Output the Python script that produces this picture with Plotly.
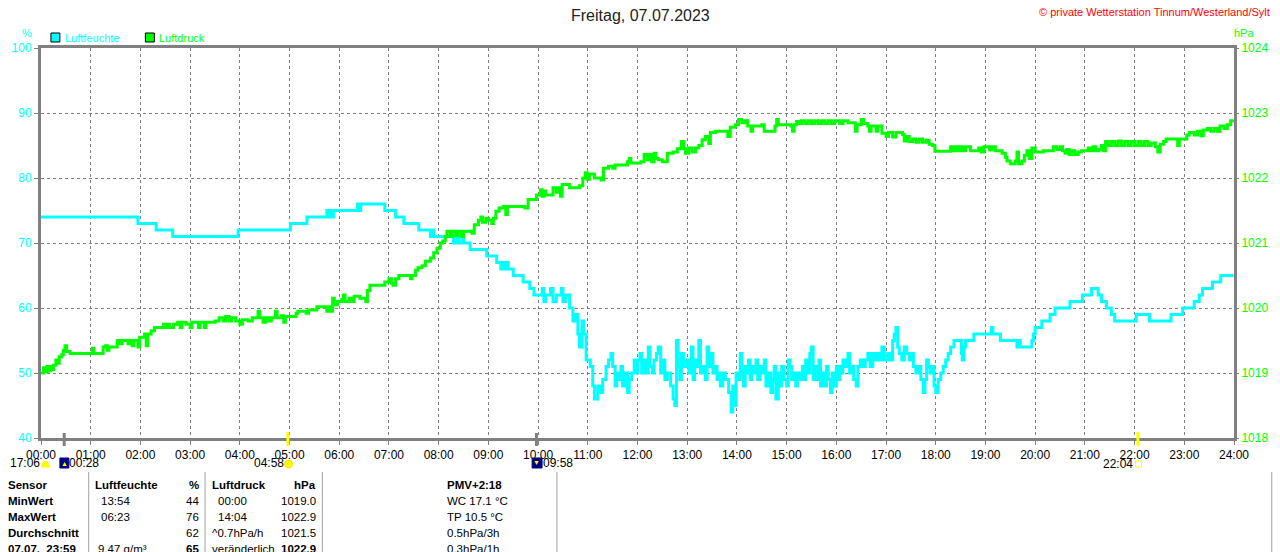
import plotly.graph_objects as go

# ---------------- data ----------------
hum_times = ["00:00","01:57","02:19","02:39","03:58","05:01","05:21","05:45","05:47","05:50","05:52","05:53",
"06:22","06:24","06:26","06:55","07:08","07:18","07:36","07:50","07:52","07:54","08:18","08:22","08:24","08:28",
"08:30","08:38","08:58","09:10","09:15","09:17","09:20","09:22","09:24","09:30","09:42","09:50","09:55","10:05",
"10:07","10:09","10:15","10:18","10:22","10:28","10:30","10:33","10:38","10:42","10:45","10:48","10:50","10:53",
"10:55","10:58","11:03","11:06","11:08","11:12","11:15","11:18","11:22","11:25","11:28","11:30","11:33","11:35",
"11:38","11:40","11:42","11:45","11:48","11:50","11:53","11:56","11:58","12:00","12:03","12:05","12:08","12:10",
"12:13","12:15","12:18","12:20","12:23","12:25","12:28","12:30","12:33","12:36","12:40","12:43","12:45","12:47",
"12:49","12:51","12:53","12:56","13:00","13:02","13:05","13:07","13:09","13:12","13:14","13:16","13:19","13:22",
"13:24","13:26","13:28","13:31","13:34","13:36","13:38","13:40","13:43","13:46","13:50","13:53","13:55","13:57",
"13:59","14:02","14:04","14:06","14:08","14:10","14:12","14:14","14:16","14:18","14:21","14:23","14:25","14:28",
"14:30","14:33","14:35","14:38","14:41","14:43","14:45","14:47","14:50","14:52","14:54","14:57","15:00","15:02",
"15:04","15:06","15:08","15:11","15:13","15:16","15:19","15:21","15:23","15:26","15:28","15:30","15:32","15:34",
"15:37","15:39","15:41","15:44","15:46","15:48","15:50","15:53","15:55","15:58","16:00","16:02","16:04","16:06",
"16:08","16:11","16:14","16:16","16:19","16:21","16:24","16:26","16:29","16:32","16:35","16:38","16:41","16:44",
"16:46","16:49","16:52","16:55","16:58","17:02","17:05","17:08","17:10","17:12","17:14","17:16","17:19","17:22",
"17:25","17:28","17:30","17:33","17:36","17:39","17:42","17:45","17:47","17:49","17:51","17:53","17:55","17:58",
"18:00","18:03","18:06","18:09","18:12","18:15","18:18","18:22","18:31","18:32","18:34","18:36","18:46","19:07",
"19:09","19:18","19:38","19:40","19:42","19:56","19:58","20:00","20:08","20:18","20:24","20:42","20:57","21:08",
"21:16","21:20","21:26","21:32","21:36","22:02","22:18","22:44","22:58","23:12","23:18","23:22","23:34","23:44","23:59"]
hum_values = [74,73,72,71,72,73,74,75,74,75,74,75,
76,75,76,75,74,73,72,71,72,71,70,71,70,71,
70,69,68,67,66,67,66,67,66,65,64,63,62,63,
61,62,63,61,62,63,61,62,60,58,59,56,54,58,
56,52,51,48,46,48,47,49,51,52,53,51,48,50,
49,51,48,50,47,49,50,52,50,52,53,50,52,50,
54,51,50,52,53,54,50,52,49,50,48,46,45,55,
51,49,53,51,52,50,54,49,52,51,55,50,51,49,
54,51,53,50,51,49,50,48,50,49,47,44,48,45,
50,49,53,50,48,51,50,52,49,51,50,52,49,51,
50,52,48,50,47,49,51,46,50,48,51,49,48,52,
51,49,50,48,50,49,51,49,52,50,53,54,49,51,
49,52,48,50,48,51,49,47,50,48,51,49,51,50,
52,51,53,50,51,49,48,51,52,51,52,53,51,53,
52,53,52,54,52,53,52,55,56,57,54,53,52,54,
53,52,53,51,50,51,49,47,49,52,51,50,51,48,
47,49,50,51,52,53,54,55,53,52,54,55,56,57,
56,55,54,55,54,55,56,57,58,59,60,61,62,63,
62,61,60,59,58,59,58,59,60,61,62,63,64,65,65]

pres_times = ["00:00","00:03","00:05","00:07","00:09","00:11","00:13","00:15","00:18","00:20","00:22","00:25",
"00:27","00:29","00:31","00:35","01:02","01:04","01:15","01:18","01:20","01:22","01:32","01:35","01:38","01:45",
"01:47","01:50","01:52","01:57","01:59","02:05","02:07","02:09","02:13","02:17","02:28","02:30","02:33","02:35",
"02:40","02:45","02:48","02:50","02:55","03:00","03:02","03:10","03:12","03:17","03:19","03:30","03:35","03:40",
"03:43","03:47","03:50","03:55","04:00","04:03","04:10","04:15","04:22","04:24","04:28","04:31","04:35","04:38",
"04:43","04:45","04:50","04:53","04:55","05:08","05:10","05:20","05:23","05:33","05:45","05:48","05:50","05:52",
"05:54","05:58","06:03","06:05","06:07","06:12","06:15","06:18","06:25","06:32","06:34","06:37","06:55","07:00",
"07:03","07:05","07:08","07:12","07:26","07:28","07:32","07:35","07:40","07:44","07:50","07:54","07:58","08:02",
"08:05","08:08","08:10","08:14","08:16","08:20","08:23","08:27","08:30","08:40","08:43","08:48","08:51","08:53",
"08:57","09:00","09:04","09:06","09:09","09:13","09:18","09:21","09:23","09:44","09:48","09:58","10:03","10:05",
"10:07","10:09","10:18","10:22","10:25","10:27","10:29","10:38","10:50","10:54","10:57","10:59","11:02","11:08",
"11:16","11:19","11:25","11:30","11:33","11:48","11:50","11:52","12:04","12:08","12:12","12:14","12:17","12:20",
"12:22","12:25","12:30","12:36","12:43","12:48","12:53","12:56","12:58","13:02","13:06","13:10","13:14","13:18",
"13:22","13:26","13:28","13:34","13:49","13:52","13:58","14:02","14:06","14:10","14:13","14:17","14:19","14:30",
"14:33","14:46","14:48","14:50","15:05","15:07","15:09","15:12","15:15","15:18","15:22","15:26","15:30","15:34",
"15:38","15:42","15:46","15:50","15:54","15:58","16:04","16:08","16:14","16:23","16:25","16:30","16:33","16:38",
"16:40","16:42","16:48","16:50","16:55","17:00","17:03","17:08","17:12","17:20","17:22","17:25","17:28","17:32",
"17:36","17:40","17:44","17:48","17:52","17:56","17:59","18:18","18:21","18:24","18:27","18:30","18:33","18:36",
"18:42","18:52","18:55","18:58","19:05","19:08","19:12","19:20","19:24","19:26","19:30","19:36","19:38","19:40",
"19:44","19:47","19:50","19:53","19:56","20:00","20:10","20:22","20:26","20:30","20:33","20:36","20:38","20:41",
"20:44","20:48","20:52","20:56","21:04","21:07","21:10","21:13","21:17","21:20","21:22","21:25","21:28","21:32",
"21:36","21:40","21:44","21:48","21:52","21:56","22:00","22:04","22:08","22:12","22:16","22:20","22:25","22:28",
"22:31","22:35","22:38","22:45","22:52","22:54","23:03","23:06","23:12","23:16","23:20","23:23","23:28","23:32",
"23:36","23:40","23:43","23:48","23:52","23:56","23:59"]
pres_values = [1019.00,1019.08,1019.02,1019.10,1019.03,1019.10,1019.05,1019.12,1019.20,1019.15,1019.25,1019.28,
1019.35,1019.42,1019.33,1019.30,1019.38,1019.30,1019.40,1019.42,1019.35,1019.40,1019.50,1019.45,1019.50,1019.45,
1019.50,1019.42,1019.50,1019.40,1019.55,1019.60,1019.42,1019.60,1019.65,1019.70,1019.75,1019.70,1019.75,1019.70,
1019.75,1019.78,1019.70,1019.78,1019.75,1019.70,1019.78,1019.70,1019.78,1019.70,1019.78,1019.80,1019.85,1019.80,
1019.87,1019.80,1019.85,1019.80,1019.75,1019.82,1019.80,1019.85,1019.95,1019.85,1019.78,1019.85,1019.80,1019.85,
1019.95,1019.85,1019.88,1019.78,1019.87,1019.92,1019.95,1019.92,1019.97,1020.02,1019.95,1020.02,1019.95,1020.15,
1020.05,1020.10,1020.13,1020.20,1020.10,1020.15,1020.10,1020.18,1020.15,1020.10,1020.27,1020.35,1020.40,1020.45,
1020.38,1020.35,1020.45,1020.50,1020.45,1020.50,1020.58,1020.62,1020.65,1020.72,1020.77,1020.85,1020.92,1021.00,
1021.03,1021.10,1021.18,1021.10,1021.18,1021.12,1021.18,1021.10,1021.18,1021.15,1021.28,1021.35,1021.40,1021.32,
1021.38,1021.35,1021.30,1021.38,1021.49,1021.54,1021.56,1021.44,1021.56,1021.54,1021.67,1021.74,1021.82,1021.72,
1021.80,1021.74,1021.85,1021.78,1021.85,1021.72,1021.90,1021.85,1021.88,1022.00,1022.08,1021.98,1022.06,1022.00,
1021.97,1022.15,1022.18,1022.15,1022.20,1022.25,1022.30,1022.23,1022.25,1022.36,1022.28,1022.36,1022.25,1022.38,
1022.30,1022.28,1022.25,1022.38,1022.40,1022.45,1022.56,1022.45,1022.38,1022.46,1022.40,1022.46,1022.50,1022.59,
1022.64,1022.53,1022.70,1022.72,1022.64,1022.78,1022.82,1022.90,1022.85,1022.88,1022.80,1022.72,1022.80,1022.82,
1022.72,1022.80,1022.90,1022.82,1022.80,1022.72,1022.82,1022.87,1022.84,1022.88,1022.84,1022.88,1022.84,1022.88,
1022.84,1022.88,1022.84,1022.88,1022.84,1022.88,1022.84,1022.88,1022.85,1022.72,1022.82,1022.90,1022.84,1022.80,
1022.72,1022.80,1022.72,1022.80,1022.69,1022.64,1022.70,1022.63,1022.70,1022.67,1022.57,1022.64,1022.56,1022.60,
1022.55,1022.60,1022.55,1022.58,1022.52,1022.50,1022.41,1022.48,1022.42,1022.48,1022.42,1022.48,1022.42,1022.48,
1022.42,1022.46,1022.40,1022.48,1022.43,1022.48,1022.42,1022.38,1022.32,1022.26,1022.22,1022.26,1022.40,1022.22,
1022.26,1022.35,1022.42,1022.30,1022.46,1022.40,1022.42,1022.48,1022.44,1022.48,1022.42,1022.38,1022.44,1022.36,
1022.42,1022.36,1022.40,1022.42,1022.46,1022.42,1022.48,1022.42,1022.44,1022.50,1022.42,1022.56,1022.50,1022.56,
1022.50,1022.57,1022.50,1022.56,1022.50,1022.56,1022.50,1022.56,1022.50,1022.56,1022.50,1022.54,1022.48,1022.40,
1022.52,1022.56,1022.60,1022.60,1022.50,1022.60,1022.66,1022.70,1022.66,1022.72,1022.65,1022.74,1022.76,1022.72,
1022.76,1022.72,1022.80,1022.76,1022.82,1022.88,1022.90]

hour_labels = ["00:00","01:00","02:00","03:00","04:00","05:00","06:00","07:00","08:00","09:00","10:00","11:00",
"12:00","13:00","14:00","15:00","16:00","17:00","18:00","19:00","20:00","21:00","22:00","23:00","24:00"]
hum_ticks = [40, 50, 60, 70, 80, 90, 100]
pres_ticks = [1018, 1019, 1020, 1021, 1022, 1023, 1024]

# astronomical events
moon_events = ["00:28", "09:58"]
sun_events = ["04:58", "22:04"]
day_length = "17:06"

# table
col_sensor = ["Sensor", "MinWert", "MaxWert", "Durchschnitt", "07.07.  23:59"]
col_hum_time = ["Luftfeuchte", "13:54", "06:23", "", "9.47 g/m³"]
col_hum_val = ["%", "44", "76", "62", "65"]
col_pres_time = ["Luftdruck", "00:00", "14:04", "^0.7hPa/h", "veränderlich"]
col_pres_val = ["hPa", "1019.0", "1022.9", "1021.5", "1022.9"]
col_extra = ["PMV+2:18", "WC 17.1 °C", "TP 10.5 °C", "0.5hPa/3h", "0.3hPa/1h"]
bold_hum_time = [True, False, False, False, False]
bold_vals = [True, False, False, False, True]

# ---------------- helpers ----------------
def to_h(t):
    hh, mm = t.split(":")
    return int(hh) + int(mm) / 60.0

L, R, T, B = 40, 1240, 48, 438
def px(x):
    return (x - L) / (R - L)
def py(y):
    return (B - y) / (B - T)

CYAN = "#00FFFF"
GREEN = "#00FF00"
GRAY = "#808080"
FONT = "Liberation Sans, Arial, sans-serif"

fig = go.Figure()
fig.add_trace(go.Scatter(x=[to_h(t) for t in hum_times], y=hum_values, mode="lines",
                         line=dict(color=CYAN, width=3, shape="hv"), yaxis="y", showlegend=False))
fig.add_trace(go.Scatter(x=[to_h(t) for t in pres_times], y=pres_values, mode="lines",
                         line=dict(color=GREEN, width=3, shape="hv"), yaxis="y2", showlegend=False))

ann = []
shapes = []

def text(x, y, s, color="black", size=12, anchor="left", bold=False):
    ann.append(dict(x=px(x), y=py(y), xref="paper", yref="paper", text=("<b>%s</b>" % s) if bold else s,
                    showarrow=False, xanchor=anchor, yanchor="middle", borderpad=0, borderwidth=0,
                    font=dict(family=FONT, size=size, color=color)))

# title and header texts
text(643, 15, "Freitag, 07.07.2023", color="#222222", size=16, anchor="center")
text(1276, 12, "© private Wetterstation Tinnum/Westerland/Sylt", color="#FF0000", size=11, anchor="right")
text(26, 33, "%", color=CYAN, size=11, anchor="center")
text(1250, 33, "hPa", color=GREEN, size=11, anchor="center")

# legend
for x0, col, lab in [(50, CYAN, "Luftfeuchte"), (145, GREEN, "Luftdruck")]:
    shapes.append(dict(type="rect", xref="paper", yref="paper", x0=px(x0), x1=px(x0 + 9), y0=py(42), y1=py(33),
                       fillcolor=col, line=dict(color="black", width=1)))
    text(x0 + 14, 38, lab, color=col, size=11)

# event ticks on the x-axis
for t in moon_events:
    shapes.append(dict(type="line", xref="x", yref="paper", x0=to_h(t), x1=to_h(t), y0=py(433), y1=py(446),
                       line=dict(color=GRAY, width=3)))
for t in sun_events:
    shapes.append(dict(type="line", xref="x", yref="paper", x0=to_h(t), x1=to_h(t), y0=py(432), y1=py(446),
                       line=dict(color="#FFFF00", width=3)))

# event labels and icons
text(9, 463, day_length, size=12)
shapes.append(dict(type="path", xref="paper", yref="paper",
                   path="M %f %f Q %f %f %f %f Z" % (px(40), py(467), px(44.5), py(455), px(49), py(467)),
                   fillcolor="#FFFF00", line=dict(color="#FFFF00", width=1)))
# moonrise icon
shapes.append(dict(type="rect", xref="paper", yref="paper", x0=px(59), x1=px(68), y0=py(468), y1=py(458),
                   fillcolor="#000080", line=dict(color="#000080", width=1)))
text(63.5, 463, "▲", color="#FFFF00", size=7, anchor="center")
text(68, 463, moon_events[0], size=12)
# sunrise
text(284, 463, sun_events[0], size=12, anchor="right")
shapes.append(dict(type="circle", xref="paper", yref="paper", x0=px(285), x1=px(293), y0=py(468), y1=py(460),
                   fillcolor="#FFFF00", line=dict(color="#FFE000", width=1)))
# moonset icon
shapes.append(dict(type="rect", xref="paper", yref="paper", x0=px(534), x1=px(544), y0=py(468), y1=py(458),
                   fillcolor="#000080", line=dict(color="#000080", width=1)))
text(538.5, 462, "▼", color="#FFFF00", size=7, anchor="center")
text(545, 463, moon_events[1], size=12)
# sunset
text(1138, 464, sun_events[1], size=12, anchor="right")
shapes.append(dict(type="rect", xref="paper", yref="paper", x0=px(1141), x1=px(1147), y0=py(467), y1=py(461),
                   fillcolor="white", line=dict(color="#FFFF00", width=1)))

# table separators
for xs in [88, 205, 323, 559, 1278]:
    shapes.append(dict(type="line", xref="paper", yref="paper", x0=px(xs), x1=px(xs), y0=py(472), y1=py(560),
                       line=dict(color="#A0A0A0", width=1)))

rows_y = [485, 501, 517, 533, 549]
TS = 11.5
for i, yy in enumerate(rows_y):
    text(7, yy, col_sensor[i], bold=True, size=TS)
    text(94 if i == 0 else 100 if i < 4 else 97, yy, col_hum_time[i], bold=bold_hum_time[i], size=TS)
    text(199, yy, col_hum_val[i], anchor="right", bold=bold_vals[i], size=TS)
    text(212 if (i == 0 or i >= 3) else 218, yy, col_pres_time[i], bold=(i == 0), size=TS)
    text(317, yy, col_pres_val[i], anchor="right", bold=bold_vals[i], size=TS)
    text(448, yy, col_extra[i], bold=(i == 0), size=TS)

fig.update_layout(
    width=1280, height=552,
    margin=dict(l=L, r=1280 - R, t=T, b=552 - B, pad=0),
    paper_bgcolor="white", plot_bgcolor="white",
    showlegend=False,
    font=dict(family=FONT, size=12, color="black"),
    xaxis=dict(range=[0, 24], tickmode="array", tickvals=list(range(25)), ticktext=hour_labels,
               showgrid=True, gridcolor=GRAY, griddash="3px,3px", gridwidth=1,
               showline=True, linecolor=GRAY, linewidth=3, mirror=True,
               ticks="outside", ticklen=4, tickcolor=GRAY, tickwidth=1,
               tickfont=dict(family=FONT, size=12, color="black"), zeroline=False, fixedrange=True),
    yaxis=dict(range=[40, 100], tickmode="array", tickvals=hum_ticks,
               showgrid=True, gridcolor=GRAY, griddash="3px,3px", gridwidth=1,
               showline=True, linecolor=GRAY, linewidth=3, mirror=True,
               ticks="outside", ticklen=4, tickcolor=GRAY, tickwidth=1,
               tickfont=dict(family=FONT, size=12, color=CYAN), zeroline=False),
    yaxis2=dict(range=[1018, 1024], tickmode="array", tickvals=pres_ticks, overlaying="y", side="right",
                showgrid=False, showline=False, ticks="outside", ticklen=4, tickcolor=GRAY, tickwidth=1,
                tickfont=dict(family=FONT, size=12, color=GREEN), zeroline=False),
    annotations=ann, shapes=shapes,
)

fig.write_html("out.html", config={"displayModeBar": False},
               post_script="document.body.style.margin='0';document.body.style.overflow='hidden';")
